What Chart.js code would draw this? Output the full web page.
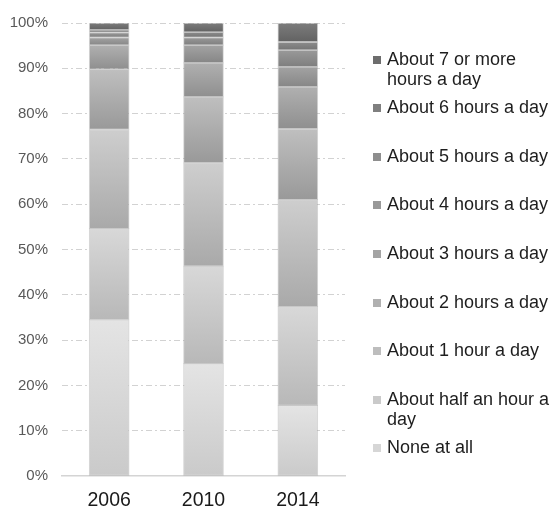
<!DOCTYPE html>
<html>
<head>
<meta charset="utf-8">
<script src="https://cdn.jsdelivr.net/npm/chart.js@4/dist/chart.umd.min.js"></script>
<style>
  html, body { margin: 0; padding: 0; background: #fff; }
  #wrap { position: relative; width: 555px; height: 511px; overflow: hidden; font-family: "Liberation Sans", Arial, sans-serif; }
  #c { position: absolute; left: 0; top: 0; }
  .lg { position: absolute; left: 373px; width: 182px; font-size: 18px; line-height: 20px; color: #1e1e1e; }
  .lg .sw { position: absolute; left: 0; top: 7px; width: 8px; height: 8px; }
  .lg .tx { position: absolute; left: 14px; top: 0; width: 170px; }
</style>
</head>
<body>
<div id="wrap">
  <canvas id="c" width="555" height="511"></canvas>
</div>
<script>
// Survey years on the x axis
const years = ['2006', '2010', '2014'];

// Answer categories, stacked from the bottom up
const seriesNames = [
  'None at all',
  'About half an hour a day',
  'About 1 hour a day',
  'About 2 hours a day',
  'About 3 hours a day',
  'About 4 hours a day',
  'About 5 hours a day',
  'About 6 hours a day',
  'About 7 or more hours a day'
];

// Share of respondents (%) per year, one array per category
const noneAtAll   = [34.5, 24.8, 15.6];
const halfHour    = [20.1, 21.5, 21.8];
const oneHour     = [21.9, 22.8, 23.6];
const twoHours    = [13.3, 14.6, 15.6];
const threeHours  = [5.3, 7.5, 9.3];
const fourHours   = [1.7, 3.9, 4.4];
const fiveHours   = [1.1, 1.7, 3.7];
const sixHours    = [0.6, 1.2, 1.8];
const sevenPlus   = [1.5, 2.0, 4.2];

const seriesValues = [noneAtAll, halfHour, oneHour, twoHours, threeHours, fourHours, fiveHours, sixHours, sevenPlus];

// Y axis tick values (percent)
const yTicks = [0, 10, 20, 30, 40, 50, 60, 70, 80, 90, 100];

// Grey shades per category: [top of segment, bottom of segment], and legend swatch
const shadeTop    = ['#e4e4e4', '#d8d8d8', '#cecece', '#bfbfbf', '#b0b0b0', '#a3a3a3', '#999999', '#8c8c8c', '#7c7c7c'];
const shadeBottom = ['#cacaca', '#b8b8b8', '#a9a9a9', '#999999', '#8f8f8f', '#868686', '#7e7e7e', '#747474', '#626262'];
const swatch      = ['#d6d6d6', '#cacaca', '#bdbdbd', '#b0b0b0', '#a4a4a4', '#999999', '#8e8e8e', '#7f7f7f', '#6d6d6d'];

// Vertical gradient for each stacked segment, computed from the y scale
function segmentFill(ctx) {
  const chart = ctx.chart;
  const ds = ctx.datasetIndex, i = ctx.dataIndex;
  const y = chart.scales && chart.scales.y;
  if (!y || !chart.chartArea || i === undefined) return swatch[ds];
  let base = 0;
  for (let k = 0; k < ds; k++) base += seriesValues[k][i];
  const top = y.getPixelForValue(base + seriesValues[ds][i]);
  const bottom = y.getPixelForValue(base);
  if (!isFinite(top) || !isFinite(bottom) || top === bottom) return swatch[ds];
  const g = chart.ctx.createLinearGradient(0, top, 0, bottom);
  g.addColorStop(0, shadeTop[ds]);
  g.addColorStop(1, shadeBottom[ds]);
  return g;
}

const datasets = seriesNames.map((name, k) => ({
  label: name,
  data: seriesValues[k],
  backgroundColor: segmentFill,
  borderColor: 'rgba(140,140,140,0.35)',
  borderWidth: 1,
  borderSkipped: false,
  barThickness: 40
}));

new Chart(document.getElementById('c'), {
  type: 'bar',
  data: { labels: years, datasets },
  options: {
    responsive: false,
    animation: false,
    layout: { autoPadding: false, padding: { left: 0, right: 210, top: 21, bottom: 0 } },
    plugins: { legend: { display: false }, tooltip: { enabled: false } },
    scales: {
      x: {
        stacked: true,
        grid: { display: false, drawTicks: false },
        border: { display: true, color: '#d4d4d4', width: 1.5 },
        ticks: { color: '#1a1a1a', font: { family: 'Liberation Sans', size: 19.5 }, padding: 13 },
        afterFit: s => { s.height = 35; }
      },
      y: {
        stacked: true,
        min: 0,
        max: 100,
        afterBuildTicks: s => { s.ticks = yTicks.map(v => ({ value: v })); },
        afterFit: s => { s.width = 62; },
        // dash-dot pattern for the horizontal grid lines
        border: { display: false, dash: [6, 3, 2, 3] },
        grid: {
          drawTicks: false,
          color: c => (c.tick && c.tick.value === 0) ? 'rgba(0,0,0,0)' : '#d2d2d2',
          lineWidth: 1
        },
        ticks: {
          color: '#595959',
          font: { family: 'Liberation Sans', size: 15 },
          padding: 14,
          callback: v => v + '%'
        }
      }
    }
  }
});

// Legend on the right, top entry is the last stacked category
const wrap = document.getElementById('wrap');
const order = seriesNames.map((_, k) => k).reverse();
order.forEach((k, row) => {
  const firstLineCenter = 58.5 + 48.6 * row;
  const item = document.createElement('div');
  item.className = 'lg';
  item.style.top = (firstLineCenter - 10) + 'px';
  const sw = document.createElement('div');
  sw.className = 'sw';
  sw.style.background = swatch[k];
  const tx = document.createElement('div');
  tx.className = 'tx';
  tx.textContent = seriesNames[k];
  item.appendChild(sw);
  item.appendChild(tx);
  wrap.appendChild(item);
});
</script>
</body>
</html>
